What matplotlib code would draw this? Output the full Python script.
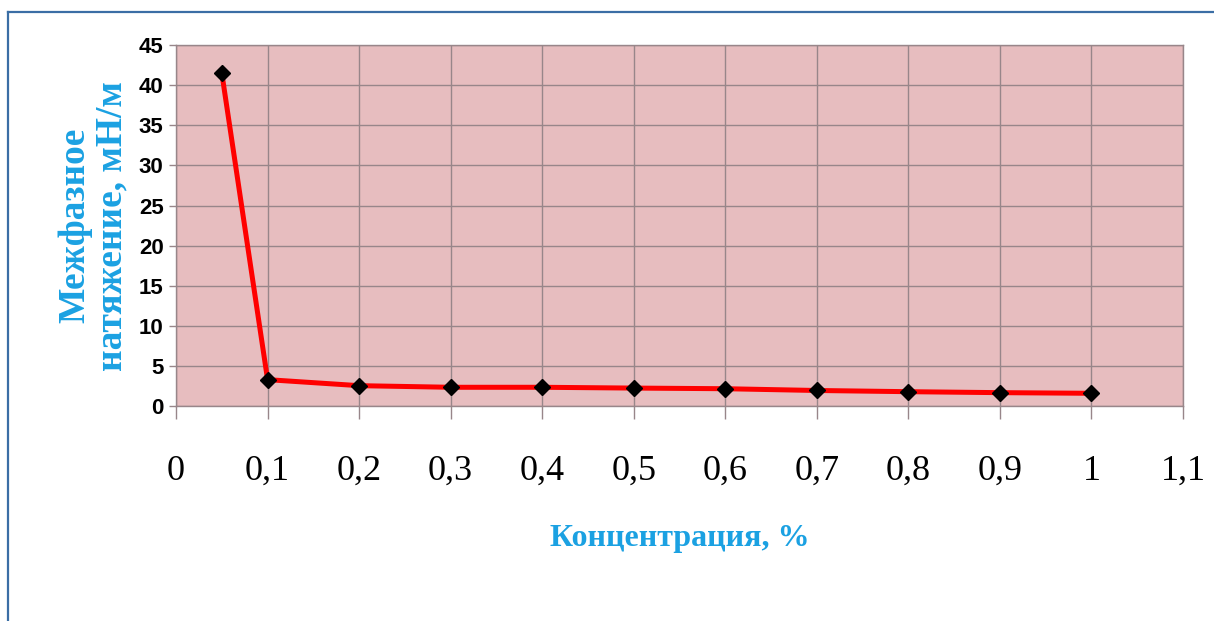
import matplotlib
matplotlib.use("Agg")
import matplotlib.pyplot as plt
from matplotlib.lines import Line2D

# concentration, % and interfacial tension, mN/m
conc = [0.05, 0.1, 0.2, 0.3, 0.4, 0.5, 0.6, 0.7, 0.8, 0.9, 1.0]
tension = [41.5, 3.3, 2.55, 2.35, 2.35, 2.25, 2.17, 1.95, 1.8, 1.68, 1.6]

x_ticks = [0, 0.1, 0.2, 0.3, 0.4, 0.5, 0.6, 0.7, 0.8, 0.9, 1.0, 1.1]
x_labels = ["0", "0,1", "0,2", "0,3", "0,4", "0,5", "0,6", "0,7", "0,8", "0,9", "1", "1,1"]
y_ticks = [0, 5, 10, 15, 20, 25, 30, 35, 40, 45]

blue = "#1ba1e2"
grid_c = "#98868a"

fig = plt.figure(figsize=(12.14, 6.21), dpi=100)
ax = fig.add_axes([0.145, 0.346, 0.8295, 0.5815])
ax.set_facecolor("#e7bdbf")

ax.plot(conc, tension, color="#ff0000", lw=3.6, zorder=3)
ax.plot(conc, tension, ls="none", marker="D", ms=8.5, color="black", zorder=4)

ax.set_xlim(0, 1.1)
ax.set_ylim(0, 45)
ax.set_xticks(x_ticks)
ax.set_xticklabels(x_labels, family="Liberation Serif", fontsize=26)
ax.set_yticks(y_ticks)
ax.set_yticklabels([str(v) for v in y_ticks], family="Liberation Sans",
                   fontsize=16, fontweight="bold")
ax.grid(True, color=grid_c, lw=1)
ax.set_axisbelow(True)
for s in ax.spines.values():
    s.set_color(grid_c)
    s.set_linewidth(1)
ax.tick_params(axis="x", length=9, width=1, color=grid_c, pad=26)
ax.tick_params(axis="y", length=5, width=1, color=grid_c, pad=4)

ax.set_xlabel("Концентрация, %", family="Liberation Serif", fontsize=23,
              fontweight="bold", color=blue, labelpad=26)
ax.set_ylabel("Межфазное\nнатяжение, мН/м", family="Liberation Serif", fontsize=27,
              fontweight="bold", color=blue, labelpad=7, linespacing=1.05)

# frame lines of the slide
fig.add_artist(Line2D([0.0066, 1.0], [0.981, 0.981], color="#3b6ea5", lw=1.6))
fig.add_artist(Line2D([0.0066, 0.0066], [0.0, 0.981], color="#3b6ea5", lw=1.6))

fig.savefig("out.png", dpi=100)
